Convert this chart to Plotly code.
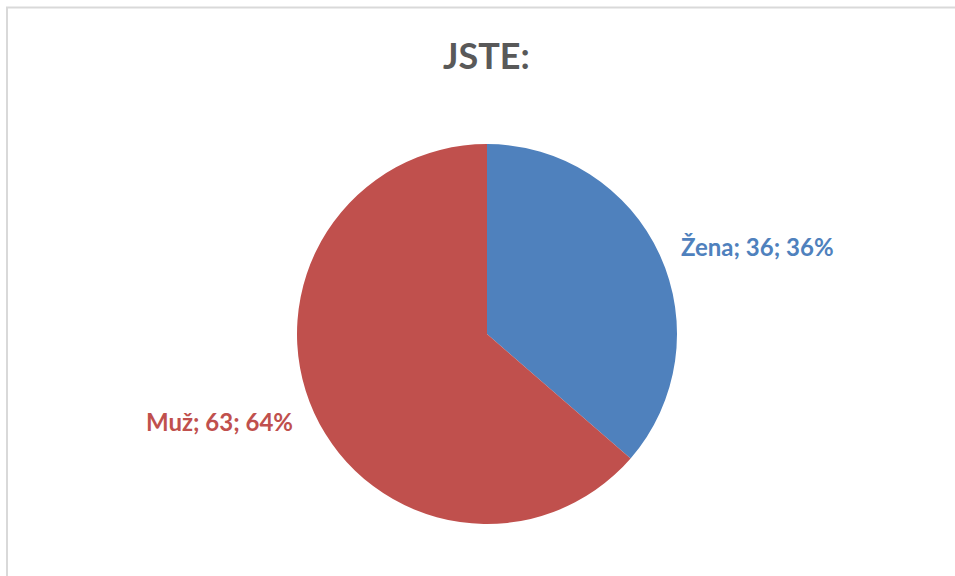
import math
import plotly.graph_objects as go

categories = ["Žena", "Muž"]
values = [36, 63]
colors = ["#4F81BD", "#C0504D"]
title_text = "JSTE:"

W, H = 955, 576
cx, cy, r = 487, 334, 190

fig = go.Figure(go.Pie(
    labels=categories,
    values=values,
    sort=False,
    direction="clockwise",
    rotation=0,
    marker=dict(colors=colors, line=dict(width=0)),
    textinfo="none",
    hoverinfo="label+value+percent",
    showlegend=False,
    domain=dict(x=[(cx - r) / W, (cx + r) / W], y=[(H - cy - r) / H, (H - cy + r) / H]),
))

# data labels placed outside along each slice's mid-angle
total = sum(values)
cum = 0
annotations = []
for cat, v, col in zip(categories, values, colors):
    mid = (cum + v / 2) / total * 2 * math.pi
    cum += v
    pct = round(v / total * 100)
    dist = r * 1.11
    sx = math.sin(mid)
    lx = cx + dist * sx
    ly = cy - dist * math.cos(mid)
    annotations.append(dict(
        x=lx / W, y=1 - ly / H, xref="paper", yref="paper",
        text=f"<b>{cat}; {v}; {pct}%</b>", showarrow=False,
        font=dict(family="Lato, Open Sans, sans-serif", size=24, color=col),
        xanchor="left" if sx >= 0 else "right", yanchor="middle",
    ))

annotations.append(dict(
    x=486 / W, y=1 - 55 / H, xref="paper", yref="paper",
    text=f"<b>{title_text}</b>", showarrow=False,
    font=dict(family="Lato, Open Sans, sans-serif", size=36, color="#595959"),
    xanchor="center", yanchor="middle",
))

fig.update_layout(
    width=W, height=H,
    margin=dict(l=0, r=0, t=0, b=0),
    paper_bgcolor="white",
    plot_bgcolor="white",
    annotations=annotations,
    shapes=[dict(type="rect", xref="paper", yref="paper",
                 x0=7 / W, x1=1.05, y0=-0.05, y1=1 - 7.5 / H,
                 line=dict(color="#D9D9D9", width=2), fillcolor="rgba(0,0,0,0)", layer="below")],
)

fig.write_html("out.html")
